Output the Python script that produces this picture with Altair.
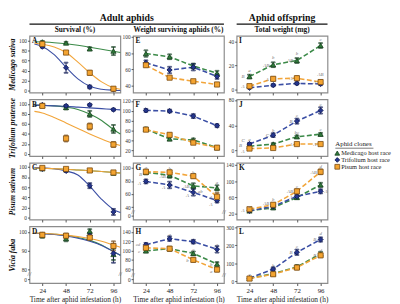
import altair as alt
import pandas as pd

FONT = "Liberation Serif"
TIMES = [24, 48, 72, 96]
CLONES = ["Medicago host race", "Trifolium host race", "Pisum host race"]
FILLS = ["#2f7a3a", "#24358c", "#f4a431"]
STROKES = ["#173f1e", "#0d1650", "#7a4a10"]
LINECOLS = ["#3b8a48", "#3a4ea4", "#f2a53a"]
SHAPES = ["triangle-up", "diamond", "square"]

# ---------------- Survival (%) : points ----------------
A_med = [97, 95, 83.5, 79]; A_tri = [87.5, 46, 8, 3]; A_pis = [93, 76, 36, 4.5]
B_med = [97, 93, 80, 50]; B_tri = [98, 96, 98, 88.5]; B_pis = [96, 31, 55, 19]
C_med = [96.5, 95, 93.5, 88]; C_tri = [96, 92, 63, 11]; C_pis = [98, 96, 93, 89]
D_med = [98, 96.5, 100.5, 88]; D_tri = [98.5, 98, 98, 88.5]; D_pis = [98.5, 98, 97, 92.5]
A_med_e = [2, 2, 3, 8]; A_tri_e = [2, 10, 3, 2]; A_pis_e = [3, 3, 4, 3]
B_med_e = [2, 4, 6, 8]; B_tri_e = [2, 2, 2, 2]; B_pis_e = [3, 6, 6, 5]
C_med_e = [2, 2, 2, 3]; C_tri_e = [2, 2, 5, 6]; C_pis_e = [2, 2, 2, 3]
D_med_e = [1, 1.5, 1, 3]; D_tri_e = [1, 1, 1, 5]; D_pis_e = [1, 1, 1, 2.5]

# ---------------- Survival (%) : fitted curves ----------------
CURVE_X = [16, 24, 36, 48, 60, 72, 84, 96, 103]
A_med_fit = [97.5, 96.8, 95.5, 93.5, 90.5, 86.5, 82.5, 78.5, 76]
A_tri_fit = [93, 88, 72, 47, 24, 9.5, 3.5, 1.5, 1]
A_pis_fit = [95, 92.5, 87, 76, 57, 36, 18, 6.5, 3.5]
B_med_fit = [97.5, 97, 96, 93.5, 89, 80, 67, 49, 40]
B_tri_fit = [97.5, 97, 96, 95, 93.5, 92, 90.5, 89, 88]
B_pis_fit = [85, 82, 73, 62, 51, 40, 30, 21, 17]
C_med_fit = [97.5, 97, 96.5, 95.5, 94, 92.5, 91, 89, 88]
C_tri_fit = [99, 98.5, 96.5, 92, 84, 62, 36, 16, 10]
C_pis_fit = [98, 97.5, 96.5, 95.5, 94, 92.5, 91, 89, 88]
D_med_fit = [99.3, 99.2, 98.8, 98.2, 97, 95.5, 93, 89.5, 87.5]
D_tri_fit = [99.3, 99.1, 98.6, 97.8, 96.6, 95, 92.8, 89.5, 87.5]
D_pis_fit = [99.5, 99.3, 98.9, 98.3, 97.5, 96.5, 95, 93, 91.8]

# ---------------- Weight surviving aphids (%) ----------------
E_med = [79.5, 75.5, 64, 55]; E_tri = [68, 59, 62.5, 51]; E_pis = [65, 49.5, 45, 41]
F_med = [62.8, 42.8, 40.7, 25]; F_tri = [100.6, 99.3, 89, 69.6]; F_pis = [61.6, 51, 35.2, 25]
G_med = [93.2, 88.8, 72.5, 69.4]; G_tri = [79.3, 73.9, 62.6, 50]; G_pis = [94.2, 93.2, 87.4, 55.8]
H_med = [99.3, 104, 94, 71]; H_tri = [112.4, 125.6, 119, 102.6]; H_pis = [105.8, 104, 80, 59]
E_med_e = [4, 3, 3, 3]; E_tri_e = [3, 4, 4, 3]; E_pis_e = [2, 1.5, 1.5, 2]
F_med_e = [3, 3, 3, 3]; F_tri_e = [3, 3, 4, 3]; F_pis_e = [3, 3, 3, 3]
G_med_e = [3, 4, 4, 4]; G_tri_e = [3, 5, 5, 3]; G_pis_e = [3, 3, 3, 6]
H_med_e = [3, 4, 4, 4]; H_tri_e = [4, 5, 4, 7]; H_pis_e = [3, 4, 4, 4]

# ---------------- Total weight (mg) ----------------
I_med = [10.7, 20.5, 24, 36.5]; I_tri = [1.3, 3.5, 5, 4.5]; I_pis = [2.7, 8.8, 9.3, 6.1]
J_med = [7, 10.4, 22, 26]; J_tri = [10.4, 24.5, 46.6, 63.5]; J_pis = [3.3, 4.2, 10.4, 10.4]
K_med = [27, 35, 60, 91]; K_tri = [27, 38, 62.7, 75]; K_pis = [31, 42, 75, 123]
L_med = [17, 42, 80, 152]; L_tri = [17, 67.5, 161, 232]; L_pis = [15, 39, 76, 144]
I_med_e = [1.5, 2, 2, 2]; I_tri_e = [0.5, 1, 1, 1]; I_pis_e = [1, 1.5, 1.5, 1.5]
J_med_e = [1, 1.5, 2, 2]; J_tri_e = [2, 3, 4, 5]; J_pis_e = [0.5, 0.5, 1, 1]
K_med_e = [3, 4, 4, 5]; K_tri_e = [3, 4, 5, 5]; K_pis_e = [3, 4, 5, 6]
L_med_e = [5, 8, 10, 12]; L_tri_e = [5, 10, 15, 12]; L_pis_e = [5, 8, 10, 10]

# ---------------- significance letters: (time, value, letter) ----------------
G_sig = [(18.5, 90, "B"), (17.5, 77, "A"), (24, 101, "a"), (48, 100, "b"), (41, 87, "AB"), (42, 70, "A"),
         (72, 94, "b"), (65, 73, "AB"), (66, 58, "A"), (79, 65, "ab"), (96, 78, "a"), (90, 55, "A"), (90, 45, "A")]
H_sig = [(16, 113, "cd"), (17, 98, "c"), (48, 136, "a"), (72, 103, "c"), (66, 79, "b"), (90, 72, "b"),
         (90, 56, "a"), (96, 113, "a")]
I_sig = [(24, 16, "a"), (17.5, 11, "B"), (17.5, 2.5, "A"), (48, 27, "b"), (41, 20, "AB"), (42, 9, "A"),
         (72, 30, "b"), (65, 24, "AB"), (66, 9.5, "A"), (96, 42, "c"), (96, 13, "AB"), (90, 6, "A")]
J_sig = [(24, 19, "a"), (17.5, 17, "C"), (15, 8.5, "B"), (17.5, 0, "A"), (48, 32, "b"), (42, 25, "C"),
         (72, 56, "c"), (66, 47, "B"), (72, 30, "bc"), (66, 11, "A"), (96, 74, "c"), (96, 34, "c"),
         (90, 11, "A")]
K_sig = [(17.5, 29, "A"), (24, 40, "a"), (41, 45, "AB"), (48, 55, "b"), (42, 35, "A"), (72, 88, "c"),
         (65, 75, "AB"), (66, 60, "A"), (96, 137, "d"), (89, 123, "AB"), (101.5, 75, "A")]
L_sig = [(24, 42, "a"), (48, 92, "b"), (72, 195, "c"), (66, 161, "B"), (96, 266, "d"), (90, 232, "B"),
         (96, 172, "d"), (90, 146, "B")]

SPECIES = ["Medicago sativa", "Trifolium pratense", "Pisum sativum", "Vicia faba"]
COL_TITLES = ["Survival (%)", "Weight surviving aphids (%)", "Total weight (mg)"]

W, H = 93, 58

# y-axis set-up per panel: domain, tick values, label expression, break position
YCFG = {
    "A": ([-3, 109], [0, 20, 40, 60, 80, 100], None, None),
    "B": ([-4, 109], [0, 20, 40, 60, 80, 100], None, None),
    "C": ([-4, 108], [0, 20, 40, 60, 80, 100], None, None),
    "D": ([72.6, 103], [74.6, 80, 90, 100], "datum.value < 78 ? '0' : datum.label", 77.2),
    "E": ([31, 101.5], [40, 60, 80, 100], None, None),
    "F": ([8, 123], [20, 40, 60, 80, 100, 120], None, None),
    "G": ([21, 107.7], [27.4, 40, 60, 80, 100], "datum.value < 30 ? '0' : datum.label", 33),
    "H": ([30, 152], [38.3, 60, 80, 100, 120, 140], "datum.value < 45 ? '0' : datum.label", 48),
    "I": ([-2.6, 44.5], [0, 20, 40], None, None),
    "J": ([-8.5, 81], [0, 40, 80], None, None),
    "K": ([5.6, 145], [20, 60, 100, 140], None, None),
    "L": ([-10, 305], [0, 100, 200, 300], None, None),
}

G_ = globals()


def series_df(key):
    rows = []
    for c, suf in zip(CLONES, ["med", "tri", "pis"]):
        vals = G_[f"{key}_{suf}"]
        errs = G_[f"{key}_{suf}_e"]
        for t, v, e in zip(TIMES, vals, errs):
            rows.append({"time": t, "val": v, "lo": v - e, "hi": v + e, "clone": c})
    return pd.DataFrame(rows)


def curve_df(key):
    rows = []
    for c, suf in zip(CLONES, ["med", "tri", "pis"]):
        for t, v in zip(CURVE_X, G_[f"{key}_{suf}_fit"]):
            rows.append({"time": t, "val": v, "clone": c})
    return pd.DataFrame(rows)


ONE = pd.DataFrame({"k": [0]})


def text_layer(txt, x, y, size, weight="normal", align="center", baseline="middle", color="#111", style="normal"):
    return alt.Chart(ONE).mark_text(text=txt, font=FONT, fontSize=size, fontWeight=weight, fontStyle=style,
                                    align=align, baseline=baseline, color=color).encode(
        x=alt.value(x), y=alt.value(y))


def panel(key, row, col):
    dom, ticks, lexpr, brk = YCFG[key]
    bottom = row == 3
    xaxis = dict(values=TIMES, grid=False, domain=False, tickSize=2.5, tickColor="#555",
                 labels=bottom, labelFont=FONT, labelFontSize=7, labelColor="#222", labelPadding=1)
    if bottom:
        xaxis.update(title="Time after aphid infestation (h)", titleFont=FONT, titleFontSize=7.5,
                     titleFontWeight="normal", titleColor="#222", titlePadding=2)
    else:
        xaxis.update(title=None)
    xs = alt.Scale(domain=[11, 103], nice=False, zero=False)
    x = alt.X("time:Q", scale=xs, axis=alt.Axis(**xaxis))

    yaxis = dict(values=ticks, grid=False, domain=False, tickSize=2, tickColor="#555", labelFont=FONT,
                 labelFontSize=5.5, labelColor="#333", labelPadding=1)
    if lexpr:
        yaxis["labelExpr"] = lexpr
    if col == 0:
        yaxis.update(title=SPECIES[row], titleFont=FONT, titleFontSize=8, titleFontStyle="italic",
                     titleFontWeight="bold", titleColor="#111", titlePadding=2)
    else:
        yaxis.update(title=None)

    def y(field):
        return alt.Y(f"{field}:Q", scale=alt.Scale(domain=dom, nice=False, zero=False), axis=alt.Axis(**yaxis))

    color = alt.Color("clone:N", scale=alt.Scale(domain=CLONES, range=LINECOLS), legend=None)
    stroke = alt.Stroke("clone:N", scale=alt.Scale(domain=CLONES, range=STROKES), legend=None)
    fill = alt.Fill("clone:N", scale=alt.Scale(domain=CLONES, range=FILLS), legend=None)
    shape = alt.Shape("clone:N", scale=alt.Scale(domain=CLONES, range=SHAPES), legend=None)

    pts = series_df(key)
    layers = []
    if col == 0:
        layers.append(alt.Chart(curve_df(key)).mark_line(interpolate="monotone", strokeWidth=1.1)
                      .encode(x=x, y=y("val"), color=color, detail="clone:N"))
    else:
        layers.append(alt.Chart(pts).mark_line(strokeDash=[5, 2.5], strokeWidth=1.6)
                      .encode(x=x, y=y("val"), color=color, detail="clone:N"))
    base = alt.Chart(pts)
    layers.append(base.mark_rule(strokeWidth=0.9).encode(x=x, y=y("lo"), y2="hi:Q", stroke=stroke))
    layers.append(base.mark_tick(orient="horizontal", size=4, thickness=0.9).encode(x=x, y=y("lo"), stroke=stroke))
    layers.append(base.mark_tick(orient="horizontal", size=4, thickness=0.9).encode(x=x, y=y("hi"), stroke=stroke))
    layers.append(base.mark_point(filled=True, size=28, strokeWidth=0.8, opacity=1)
                  .encode(x=x, y=y("val"), fill=fill, stroke=stroke, shape=shape))
    sig = G_.get(f"{key}_sig")
    if sig:
        sdf = pd.DataFrame(sig, columns=["time", "val", "lab"])
        layers.append(alt.Chart(sdf).mark_text(font=FONT, fontSize=5, fontStyle="italic", color="#777")
                      .encode(x=x, y=y("val"), text="lab:N"))
    if brk is not None:
        bdf = pd.DataFrame({"val": [brk]})
        for xv in (0, W):
            layers.append(alt.Chart(bdf).mark_text(text="//", font=FONT, fontSize=7, color="#555")
                          .encode(x=alt.value(xv), y=y("val")))
    layers.append(text_layer(key, 2.5, 1.5, 7.5, weight="bold", align="left", baseline="top"))

    # column headers
    if row == 0:
        layers.append(text_layer(COL_TITLES[col], W / 2, -5.5, 7.5, weight="bold"))
        if col == 0:
            layers.append(text_layer("Adult aphids", W + 6.5, -18.5, 10, weight="bold"))
            layers.append(alt.Chart(ONE).mark_rule(color="#111", strokeWidth=1.1)
                          .encode(x=alt.value(0), x2=alt.value(2 * W + 13), y=alt.value(-12)))
        if col == 2:
            layers.append(text_layer("Aphid offspring", W / 2, -18.5, 10, weight="bold"))
            layers.append(alt.Chart(ONE).mark_rule(color="#111", strokeWidth=1.1)
                          .encode(x=alt.value(0), x2=alt.value(W), y=alt.value(-12)))
    # legend next to panel J
    if key == "J":
        lx = W + 9
        layers.append(text_layer("Aphid clones", lx - 1, 46, 7, align="left", color="#222"))
        layers.append(alt.Chart(ONE).mark_rule(color="#222", strokeWidth=0.6)
                      .encode(x=alt.value(lx - 1), x2=alt.value(lx + 38), y=alt.value(50)))
        for i, c in enumerate(CLONES):
            yy = 55 + 7 * i
            layers.append(alt.Chart(ONE).mark_point(filled=True, size=24, strokeWidth=0.8, shape=SHAPES[i],
                                                    fill=FILLS[i], stroke=STROKES[i], opacity=1)
                          .encode(x=alt.value(lx + 1), y=alt.value(yy)))
            layers.append(text_layer(c, lx + 5, yy, 6.5, align="left", color="#222"))

    return alt.layer(*layers).properties(width=W, height=H)


KEYS = [["A", "E", "I"], ["B", "F", "J"], ["C", "G", "K"], ["D", "H", "L"]]
panels = [panel(KEYS[r][c], r, c) for r in range(4) for c in range(3)]

chart = alt.concat(*panels, columns=3, spacing={"row": 7, "column": 13}, bounds="flush").properties(
    padding=0, background="white"
).configure_view(stroke="#8c8c8c", strokeWidth=1.2)

chart.save("out.html", embed_options={"renderer": "svg", "actions": False})
